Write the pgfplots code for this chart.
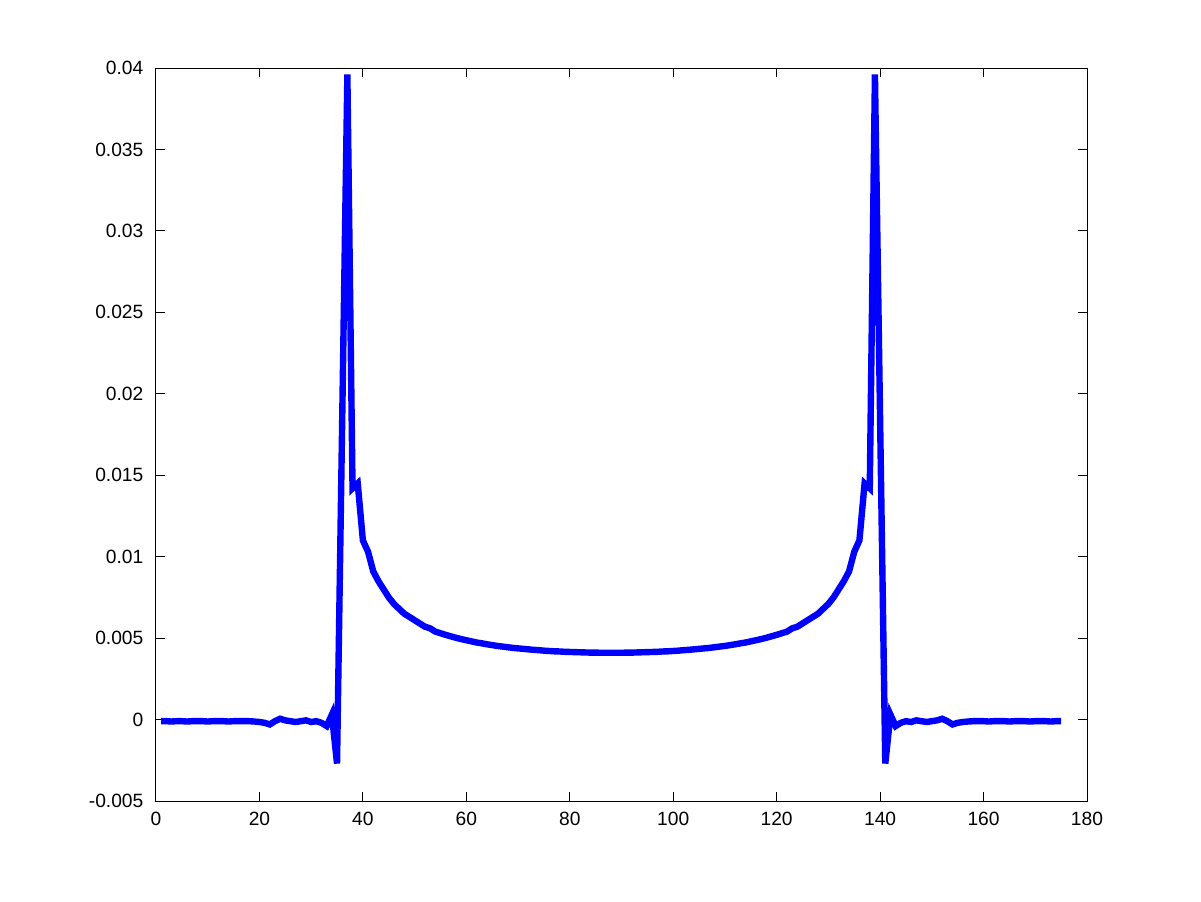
\documentclass[border=0pt]{standalone}
\usepackage{fontspec}
\setmainfont{Liberation Sans}
\usepackage{pgfplots}
\pgfplotsset{compat=1.18}
\definecolor{mblue}{RGB}{0,0,255}

\begin{document}
\begin{tikzpicture}
\begin{axis}[
  scale only axis,
  width=465.5pt,height=366.5pt,
  xmin=0,xmax=180,ymin=-0.005,ymax=0.04,
  xtick={0,20,...,180},
  xticklabels={0,20,40,60,80,100,120,140,160,180},
  ytick={-0.005,0,0.005,0.01,0.015,0.02,0.025,0.03,0.035,0.04},
  yticklabels={-0.005,0,0.005,0.01,0.015,0.02,0.025,0.03,0.035,0.04},
  scaled y ticks=false,
  tick align=inside,tick pos=both,
  major tick length=4.5pt,
  axis line style={line width=0.5pt},
  every tick/.style={black,line width=0.5pt},
  tick label style={font=\fontsize{9.6}{11}\selectfont},
  yticklabel style={xshift=-2.8pt},
  xticklabel style={yshift=-2.2pt},
  /pgf/number format/assume math mode=true]
\addplot[mblue,line width=3.2pt] table {
x y
1 -0.0001
2 -0.0001
3 -0.00012
4 -0.0001
5 -0.0001
6 -0.00012
7 -0.0001
8 -0.0001
9 -0.0001
10 -0.00012
11 -0.0001
12 -0.0001
13 -0.0001
14 -0.00012
15 -0.0001
16 -0.0001
17 -0.0001
18 -0.0001
19 -0.00012
20 -0.00015
21 -0.0002
22 -0.0003
23 -0.0001
24 0.00005
25 -0.00005
26 -0.0001
27 -0.00015
28 -0.0001
29 -0.00005
30 -0.00015
31 -0.0001
32 -0.0002
33 -0.0004
34 0.0003
35 -0.0027
36 0.0184
37 0.0396
38 0.0142
39 0.0145
40 0.0110
41 0.0103
42 0.0091
43 0.0085
44 0.0080
45 0.0075
46 0.0071
47 0.0068
48 0.0065
49 0.0063
50 0.0061
51 0.0059
52 0.0057
53 0.0056
54 0.0054
55 0.0053
56 0.0052
57 0.00511
58 0.00502
59 0.00494
60 0.00487
61 0.0048
62 0.00473
63 0.00468
64 0.00462
65 0.00457
66 0.00452
67 0.00448
68 0.00444
69 0.0044
70 0.00437
71 0.00434
72 0.00431
73 0.00428
74 0.00426
75 0.00423
76 0.00421
77 0.00419
78 0.00418
79 0.00416
80 0.00415
81 0.00414
82 0.00413
83 0.00412
84 0.00411
85 0.00411
86 0.0041
87 0.0041
88 0.0041
89 0.0041
90 0.0041
91 0.00411
92 0.00411
93 0.00412
94 0.00413
95 0.00414
96 0.00415
97 0.00416
98 0.00418
99 0.00419
100 0.00421
101 0.00423
102 0.00426
103 0.00428
104 0.00431
105 0.00434
106 0.00437
107 0.0044
108 0.00444
109 0.00448
110 0.00452
111 0.00457
112 0.00462
113 0.00468
114 0.00473
115 0.0048
116 0.00487
117 0.00494
118 0.00502
119 0.00511
120 0.0052
121 0.0053
122 0.0054
123 0.0056
124 0.0057
125 0.0059
126 0.0061
127 0.0063
128 0.0065
129 0.0068
130 0.0071
131 0.0075
132 0.0080
133 0.0085
134 0.0091
135 0.0103
136 0.0110
137 0.0145
138 0.0142
139 0.0396
140 0.0184
141 -0.0027
142 0.0003
143 -0.0004
144 -0.0002
145 -0.0001
146 -0.00015
147 -0.00005
148 -0.0001
149 -0.00015
150 -0.0001
151 -0.00005
152 0.00005
153 -0.0001
154 -0.0003
155 -0.0002
156 -0.00015
157 -0.00012
158 -0.0001
159 -0.0001
160 -0.0001
161 -0.00012
162 -0.0001
163 -0.0001
164 -0.0001
165 -0.00012
166 -0.0001
167 -0.0001
168 -0.0001
169 -0.00012
170 -0.0001
171 -0.0001
172 -0.0001
173 -0.00012
174 -0.0001
175 -0.0001
};
\end{axis}
\path (current axis.south west) ++(-78pt,-50pt) rectangle ++(600.5pt,450.5pt);
\end{tikzpicture}
\end{document}
